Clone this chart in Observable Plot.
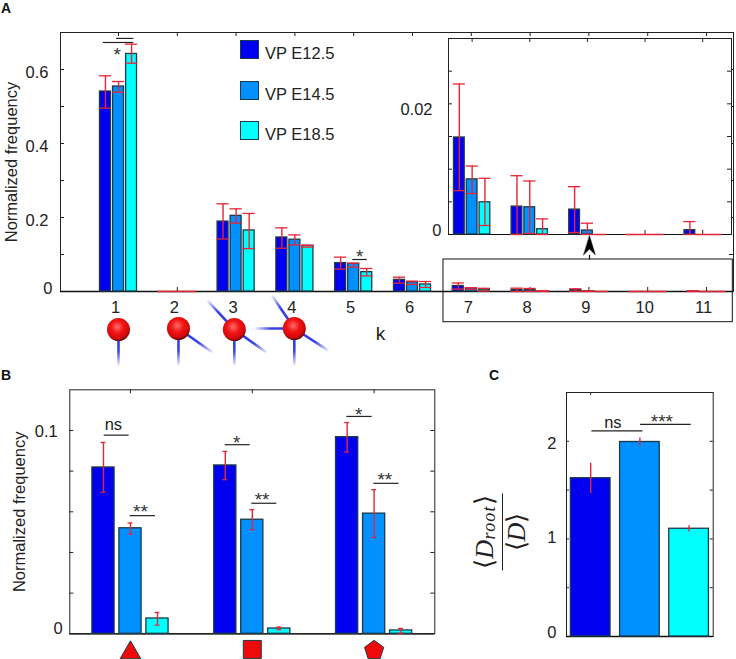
<!DOCTYPE html>
<html><head><meta charset="utf-8">
<script src="https://cdn.jsdelivr.net/npm/d3@7"></script>
<script src="https://cdn.jsdelivr.net/npm/@observablehq/plot@0.6"></script>
<style>
html,body{margin:0;padding:0;background:#fff}
#page{position:relative;width:736px;height:659px;overflow:hidden;font-family:"Liberation Sans",Arial,sans-serif;color:#222}
#page svg.plot,#page>svg{position:absolute}
.tag{position:absolute;font-weight:bold;font-size:14px;line-height:14px;color:#111}
.swatch{position:absolute;width:17px;height:17px;border:1.5px solid #1c3a48;box-sizing:content-box}
.legtext{position:absolute;font-size:16.5px;line-height:18px;white-space:nowrap}
#frac{position:absolute;left:501px;top:532px;transform:translate(-50%,-50%) rotate(-90deg);font-family:"Liberation Serif",serif;font-size:26px;line-height:22px;text-align:center;white-space:nowrap;color:#222}
#frac .num{border-bottom:1.5px solid #222;padding:0 1px 6px;letter-spacing:0.6px}
#frac sub{font-size:18px;line-height:0;letter-spacing:1.2px;vertical-align:-0.12em}
#frac .den{padding-top:3px}
</style></head>
<body><div id="page"></div>
<script>
// ---------- series ----------
const seriesNames = ["VP E12.5", "VP E14.5", "VP E18.5"];
const seriesColors = ["#0000f0", "#0090ff", "#00ffff"];

// Panel A: node degree k
const kValues = [1, 2, 3, 4, 5, 6, 7, 8, 9, 10, 11];
const meanE125 = [0.5405, 0, 0.189, 0.146, 0.0766, 0.0315, 0.01485, 0.00427, 0.00381, 0, 0.00066];
const lowE125  = [0.4955, 0, 0.142, 0.117, 0.0604, 0.0225, 0.00671, 0, 0.0003, 0, 0];
const highE125 = [0.583, 0, 0.237, 0.172, 0.0928, 0.0387, 0.02304, 0.009, 0.00732, 0, 0.00198];
const meanE145 = [0.554, 0, 0.2045, 0.14, 0.0748, 0.0252, 0.00844, 0.00417, 0.00061, 0, 0];
const lowE145  = [0.5387, 0, 0.1847, 0.126, 0.0658, 0.019, 0.00626, 0.00015, 0, 0, 0];
const highE145 = [0.5676, 0, 0.2234, 0.153, 0.0766, 0.028, 0.01048, 0.00819, 0.00173, 0, 0];
const meanE185 = [0.642, 0, 0.165, 0.1234, 0.0523, 0.019, 0.00493, 0.00081, 0, 0, 0];
const lowE185  = [0.617, 0, 0.116, 0.12, 0.0423, 0.0108, 0.00137, 0, 0, 0, 0];
const highE185 = [0.6685, 0, 0.211, 0.125, 0.0622, 0.027, 0.0086, 0.00239, 0, 0, 0];

// Panel B: motifs
const motifs = [1, 2, 3];
const motifE125 = [0.0818, 0.0828, 0.0967];
const motifLowE125 = [0.0696, 0.0758, 0.0894];
const motifHighE125 = [0.0941, 0.0897, 0.1039];
const motifE145 = [0.0519, 0.0561, 0.0591];
const motifLowE145 = [0.0491, 0.0512, 0.0473];
const motifHighE145 = [0.0545, 0.061, 0.0709];
const motifE185 = [0.00753, 0.00262, 0.00164];
const motifLowE185 = [0.00426, 0.002, 0.0003];
const motifHighE185 = [0.0105, 0.0033, 0.0026];

// Panel C: root degree ratio
const ratioPos = [1, 2, 3];
const ratioMean = [1.622, 1.993, 1.104];
const ratioLow = [1.465, 1.949, 1.07];
const ratioHigh = [1.775, 2.034, 1.135];

// ---------- significance annotations ----------
const sigLinesA = [{a:0.74,b:1.26,y:0.673},{a:0.966,b:1.26,y:0.684},{a:4.985,b:5.23,y:0.0865}];
const sigTextA  = [{x:0.98,y:0.651,t:"*"},{x:5.1,y:0.104,t:"*"}];
const sigLinesB = [{a:0.784,b:0.989,y:0.0977},{a:0.997,b:1.205,y:0.0581},{a:1.777,b:1.982,y:0.093},{a:1.996,b:2.201,y:0.0642},{a:2.776,b:2.984,y:0.1069},{a:2.997,b:3.205,y:0.074}];
const sigTextB  = [{x:1.082,y:0.0617,t:"**"},{x:1.873,y:0.0957,t:"*"},{x:2.08,y:0.0676,t:"**"},{x:2.874,y:0.1097,t:"*"},{x:3.088,y:0.0776,t:"**"}];
const nsTextB   = [{x:0.86,y:0.1026,t:"ns"}];
const sigLinesC = [{a:1.024,b:2.061,y:2.106},{a:2.014,b:3.044,y:2.174}];
const sigTextC  = [{x:2.447,y:2.242,t:"***"}];
const nsTextC   = [{x:1.451,y:2.194,t:"ns"}];

// ---------- motif sketches under panel A, in panel A's data units ----------
const balls = [{x:1,y:-0.103},{x:2.02,y:-0.1},{x:2.97,y:-0.103},{x:3.99,y:-0.1}];
const arms = [
  {x1:1,y1:-0.103,x2:1,y2:-0.2},
  {x1:2.02,y1:-0.1,x2:2.02,y2:-0.2},{x1:2.02,y1:-0.1,x2:2.6,y2:-0.165},
  {x1:2.97,y1:-0.103,x2:2.97,y2:-0.2},{x1:2.97,y1:-0.103,x2:3.52,y2:-0.165},{x1:2.97,y1:-0.103,x2:2.51,y2:-0.024},
  {x1:3.99,y1:-0.1,x2:3.99,y2:-0.2},{x1:3.99,y1:-0.1,x2:4.57,y2:-0.16},{x1:3.99,y1:-0.1,x2:3.32,y2:-0.1},{x1:3.99,y1:-0.1,x2:3.61,y2:-0.011}
];
const zoomBox = [{x1:6.527,x2:11.447,y1:0.0865,y2:-0.083}];
const zoomArrow = [{x:9.01,y:0.0992,yEnd:0.0865}];

const RED = "#e62636", INK = "#1c3a48", AXIS = "#222", FONT = "Liberation Sans, Arial, sans-serif", FS = 16.5;
const page = document.getElementById("page");

function rows(pos, means, lows, highs, spread) {
  const out = [];
  means.forEach((m, s) => pos.forEach((p, i) => out.push({
    pos: p + spread * (s - 1), mean: m[i], low: lows[s][i], high: highs[s][i], s
  })));
  return out;
}
function barMarks(data, barHalf) {
  return [Plot.rect(data.filter(d => d.mean > 0), {
    x1: d => d.pos - barHalf, x2: d => d.pos + barHalf, y1: () => 0, y2: "mean",
    fill: d => seriesColors[d.s], stroke: INK, strokeWidth: 1.3
  })];
}
function errMarks(data, capHalf) {
  const m = [Plot.ruleX(data, {x: "pos", y1: "low", y2: "high", stroke: RED, strokeWidth: 1.4})];
  if (capHalf > 0) {
    m.push(Plot.ruleY(data, {y: "high", x1: d => d.pos - capHalf, x2: d => d.pos + capHalf, stroke: RED, strokeWidth: 1.3}));
    m.push(Plot.ruleY(data, {y: "low", x1: d => d.pos - capHalf, x2: d => d.pos + capHalf, stroke: RED, strokeWidth: 1.3}));
  }
  return m;
}
function boxTicks(xt, yt, innerW, innerH, len = 4) {
  return [
    Plot.tickX(xt, {x: d => d, insetTop: innerH - len, stroke: AXIS}),
    Plot.tickX(xt, {x: d => d, insetBottom: innerH - len, stroke: AXIS}),
    Plot.tickY(yt, {y: d => d, insetRight: innerW - len, stroke: AXIS}),
    Plot.tickY(yt, {y: d => d, insetLeft: innerW - len, stroke: AXIS})
  ];
}
function sigMarks(lines, stars, ns) {
  return [
    Plot.ruleY(lines, {y: "y", x1: "a", x2: "b", stroke: "#222", strokeWidth: 1.2}),
    Plot.text(stars, {x: "x", y: "y", text: "t", fontSize: 19, dy: 4, fill: "#333", fontFamily: FONT}),
    Plot.text(ns, {x: "x", y: "y", text: "t", fontSize: FS, fill: "#222", fontFamily: FONT})
  ];
}
function place(plot, left, top) {
  plot.style.position = "absolute";
  plot.style.left = left + "px";
  plot.style.top = top + "px";
  plot.style.background = "transparent";
  plot.style.maxWidth = "none";
  page.appendChild(plot);
  return plot;
}

// Shared gradients
const NS = "http://www.w3.org/2000/svg";
const defsSvg = document.createElementNS(NS, "svg");
defsSvg.setAttribute("width", 0); defsSvg.setAttribute("height", 0);
defsSvg.innerHTML = `<defs id="gdefs"><radialGradient id="ball" cx="0.45" cy="0.38" r="0.62">
<stop offset="0" stop-color="#ff6a6a"/><stop offset="0.45" stop-color="#f01414"/><stop offset="0.82" stop-color="#d40808"/><stop offset="1" stop-color="#5a0808"/></radialGradient></defs>`;
page.appendChild(defsSvg);

// ---------- Panel A ----------
const dataA = rows(kValues, [meanE125, meanE145, meanE185], [lowE125, lowE145, lowE185], [highE125, highE145, highE185], 0.222);
const yTicksA = d3.range(0, 0.7, 0.1);
const plotA = Plot.plot({
  width: 736, height: 370, marginLeft: 60, marginRight: 3, marginTop: 32, marginBottom: 79,
  style: {fontFamily: FONT, color: AXIS, background: "transparent", overflow: "visible"},
  x: {domain: [0.0136, 11.459]},
  y: {domain: [0, 0.7]},
  marks: [
    Plot.frame({stroke: AXIS, strokeWidth: 1}),
    ...boxTicks(kValues, yTicksA, 673, 259),
    Plot.ruleY([0], {stroke: "#111", strokeWidth: 1.3}),
    ...barMarks(dataA, 0.093),
    ...errMarks(dataA, 0.104),
    Plot.axisY([0.2, 0.4, 0.6], {tickSize: 0, tickPadding: 12, dy: 3, fontSize: FS, label: "Normalized frequency", labelAnchor: "center", labelArrow: "none", labelOffset: 55, tickFormat: d3.format(".1f")}),
    Plot.axisY([0], {tickSize: 0, tickPadding: 8, dy: -3, fontSize: FS, label: null, tickFormat: d => "0"}),
    Plot.axisX(kValues, {tickSize: 0, tickPadding: 10, dx: -3, fontSize: FS, label: null, tickFormat: d => String(d)}),
    Plot.text(["k"], {x: () => 5.456, y: () => -0.1135, text: d => d, fontSize: 19, fontFamily: FONT}),
    ...sigMarks(sigLinesA, sigTextA, []),
    Plot.rect(zoomBox, {x1: "x1", x2: "x2", y1: "y1", y2: "y2", fill: "none", stroke: "#111", strokeWidth: 1}),
    Plot.link(zoomArrow, {x1: "x", x2: "x", y1: "y", y2: "yEnd", stroke: "#111", strokeWidth: 1.2}),
    Plot.vector(zoomArrow, {x: "x", y: "y", length: 19, anchor: "start", fill: "#000", stroke: "#000", strokeWidth: 0.5,
      shape: {draw(c, l) { c.moveTo(0, -l); c.lineTo(5.8, 0); c.lineTo(0, -l * 0.3); c.lineTo(-5.8, 0); c.closePath(); }}}),
    ...arms.map((a, i) => Plot.link([a], {x1: "x1", y1: "y1", x2: "x2", y2: "y2", stroke: `url(#arm${i})`, strokeWidth: 2.6})),
    Plot.dot(balls, {x: "x", y: "y", r: 11.5, fill: "url(#ball)", stroke: "none"})
  ]
});
place(plotA, 0, 0);
const gdefs = document.getElementById("gdefs");
const sx = plotA.scale("x"), sy = plotA.scale("y");
arms.forEach((a, i) => {
  const g = document.createElementNS(NS, "linearGradient");
  g.setAttribute("id", "arm" + i);
  g.setAttribute("gradientUnits", "userSpaceOnUse");
  g.setAttribute("x1", sx.apply(a.x1)); g.setAttribute("y1", sy.apply(a.y1));
  g.setAttribute("x2", sx.apply(a.x2)); g.setAttribute("y2", sy.apply(a.y2));
  g.innerHTML = `<stop offset="0" stop-color="#2a32e0"/><stop offset="0.6" stop-color="#3a44e6"/><stop offset="1" stop-color="#3a44e6" stop-opacity="0.08"/>`;
  gdefs.appendChild(g);
});

// ---------- Inset ----------
const insetK = [7, 8, 9, 10, 11];
const dataInset = dataA.filter(d => d.pos > 6.5);
const plotI = Plot.plot({
  width: 336, height: 215, marginLeft: 48, marginRight: 5, marginTop: 8, marginBottom: 11,
  style: {fontFamily: FONT, color: AXIS, background: "transparent", overflow: "visible"},
  x: {domain: [6.59, 11.5], axis: null},
  y: {domain: [0, 0.03]},
  marks: [
    Plot.frame({fill: "#fff", stroke: AXIS, strokeWidth: 1}),
    ...boxTicks(insetK, d3.range(0.005, 0.03, 0.005), 283, 196),
    Plot.ruleY([0], {stroke: "#111", strokeWidth: 1.2}),
    ...barMarks(dataInset, 0.093),
    ...errMarks(dataInset, 0.106),
    Plot.axisY([0.02], {tickSize: 0, tickPadding: 16, dy: 6, fontSize: FS, label: null, tickFormat: d3.format(".2f")}),
    Plot.axisY([0], {tickSize: 0, tickPadding: 7, dy: -4, fontSize: FS, label: null, tickFormat: d => "0"})
  ]
});
place(plotI, 400, 30);

// ---------- Panel B ----------
const dataB = rows(motifs, [motifE125, motifE145, motifE185], [motifLowE125, motifLowE145, motifLowE185], [motifHighE125, motifHighE145, motifHighE185], 0.2216);
const pentagon = {draw(c, size) {
  const R = Math.sqrt(size);
  d3.range(5).forEach(i => { const t = -Math.PI / 2 + i * 2 * Math.PI / 5; i ? c.lineTo(R * Math.cos(t), R * Math.sin(t)) : c.moveTo(R * Math.cos(t), R * Math.sin(t)); });
  c.closePath();
}};
const plotB = Plot.plot({
  width: 450, height: 279, marginLeft: 69.3, marginRight: 15.7, marginTop: 9.3, marginBottom: 25.7,
  style: {fontFamily: FONT, color: AXIS, background: "transparent", overflow: "visible"},
  x: {domain: [0.502, 3.498], axis: null},
  y: {domain: [0, 0.12]},
  symbol: {type: "identity"},
  marks: [
    Plot.frame({stroke: AXIS, strokeWidth: 1}),
    ...boxTicks(motifs, d3.range(0.02, 0.12, 0.02), 365, 244),
    Plot.ruleY([0], {stroke: "#111", strokeWidth: 1.3}),
    ...barMarks(dataB, 0.091),
    ...errMarks(dataB, 0.02),
    Plot.axisY([0.1], {tickSize: 0, tickPadding: 12, dy: 1.5, fontSize: FS, label: "Normalized frequency", labelAnchor: "center", labelArrow: "none", labelOffset: 57, tickFormat: d3.format(".1f")}),
    Plot.axisY([0], {tickSize: 0, tickPadding: 7, dy: -5, fontSize: FS, label: null, tickFormat: d => "0"}),
    ...sigMarks(sigLinesB, sigTextB, nsTextB),
    Plot.dot([{x: 1, y: -0.00933}], {x: "x", y: "y", symbol: "triangle", r: 7.7, fill: "#ee0a0a", stroke: INK, strokeWidth: 1}),
    Plot.dot([{x: 2, y: -0.00769}], {x: "x", y: "y", symbol: "square", r: 10.15, fill: "#ee0a0a", stroke: INK, strokeWidth: 1}),
    Plot.dot([{x: 3, y: -0.0082}], {x: "x", y: "y", symbol: () => pentagon, r: 5.7, fill: "#ee0a0a", stroke: INK, strokeWidth: 1})
  ]
});
place(plotB, 0, 380);

// ---------- Panel C ----------
const dataC = ratioPos.map((p, i) => ({pos: p, mean: ratioMean[i], low: ratioLow[i], high: ratioHigh[i], s: i}));
const plotC = Plot.plot({
  width: 286, height: 279, marginLeft: 116, marginRight: 23.3, marginTop: 12, marginBottom: 23,
  style: {fontFamily: FONT, color: AXIS, background: "transparent", overflow: "visible"},
  x: {domain: [0.508, 3.49], axis: null},
  y: {domain: [0, 2.5]},
  marks: [
    Plot.frame({stroke: AXIS, strokeWidth: 1}),
    ...boxTicks([1], [0.5, 1, 1.5, 2], 146.7, 244, 3),
    Plot.ruleY([0], {stroke: "#111", strokeWidth: 1.3}),
    ...barMarks(dataC, 0.403),
    ...errMarks(dataC, 0),
    Plot.axisY([2], {tickSize: 0, tickPadding: 10, dy: 2.3, fontSize: FS, label: null, tickFormat: d => String(d)}),
    Plot.axisY([1], {tickSize: 0, tickPadding: 10, dy: -1, fontSize: FS, label: null, tickFormat: d => String(d)}),
    Plot.axisY([0], {tickSize: 0, tickPadding: 10, dy: -4, fontSize: FS, label: null, tickFormat: d => String(d)}),
    ...sigMarks(sigLinesC, sigTextC, nsTextC)
  ]
});
place(plotC, 450, 380);

// ---------- Legend, panel letters, fraction label ----------
seriesNames.forEach((name, i) => {
  const sw = document.createElement("div");
  sw.className = "swatch";
  sw.style.left = "240px"; sw.style.top = (40 + i * 40.5) + "px"; sw.style.background = seriesColors[i];
  page.appendChild(sw);
  const t = document.createElement("div");
  t.className = "legtext"; t.textContent = name;
  t.style.left = "265px"; t.style.top = (44 + i * 40.5) + "px";
  page.appendChild(t);
});
[["A", 1, 1], ["B", 1, 368], ["C", 489, 368]].forEach(([s, x, y]) => {
  const d = document.createElement("div");
  d.className = "tag"; d.textContent = s; d.style.left = x + "px"; d.style.top = y + "px";
  page.appendChild(d);
});
const frac = document.createElement("div");
frac.id = "frac";
frac.innerHTML = `<div class="num">⟨<i>D<sub>root</sub></i>⟩</div><div class="den">⟨<i>D</i>⟩</div>`;
page.appendChild(frac);
</script></body></html>
